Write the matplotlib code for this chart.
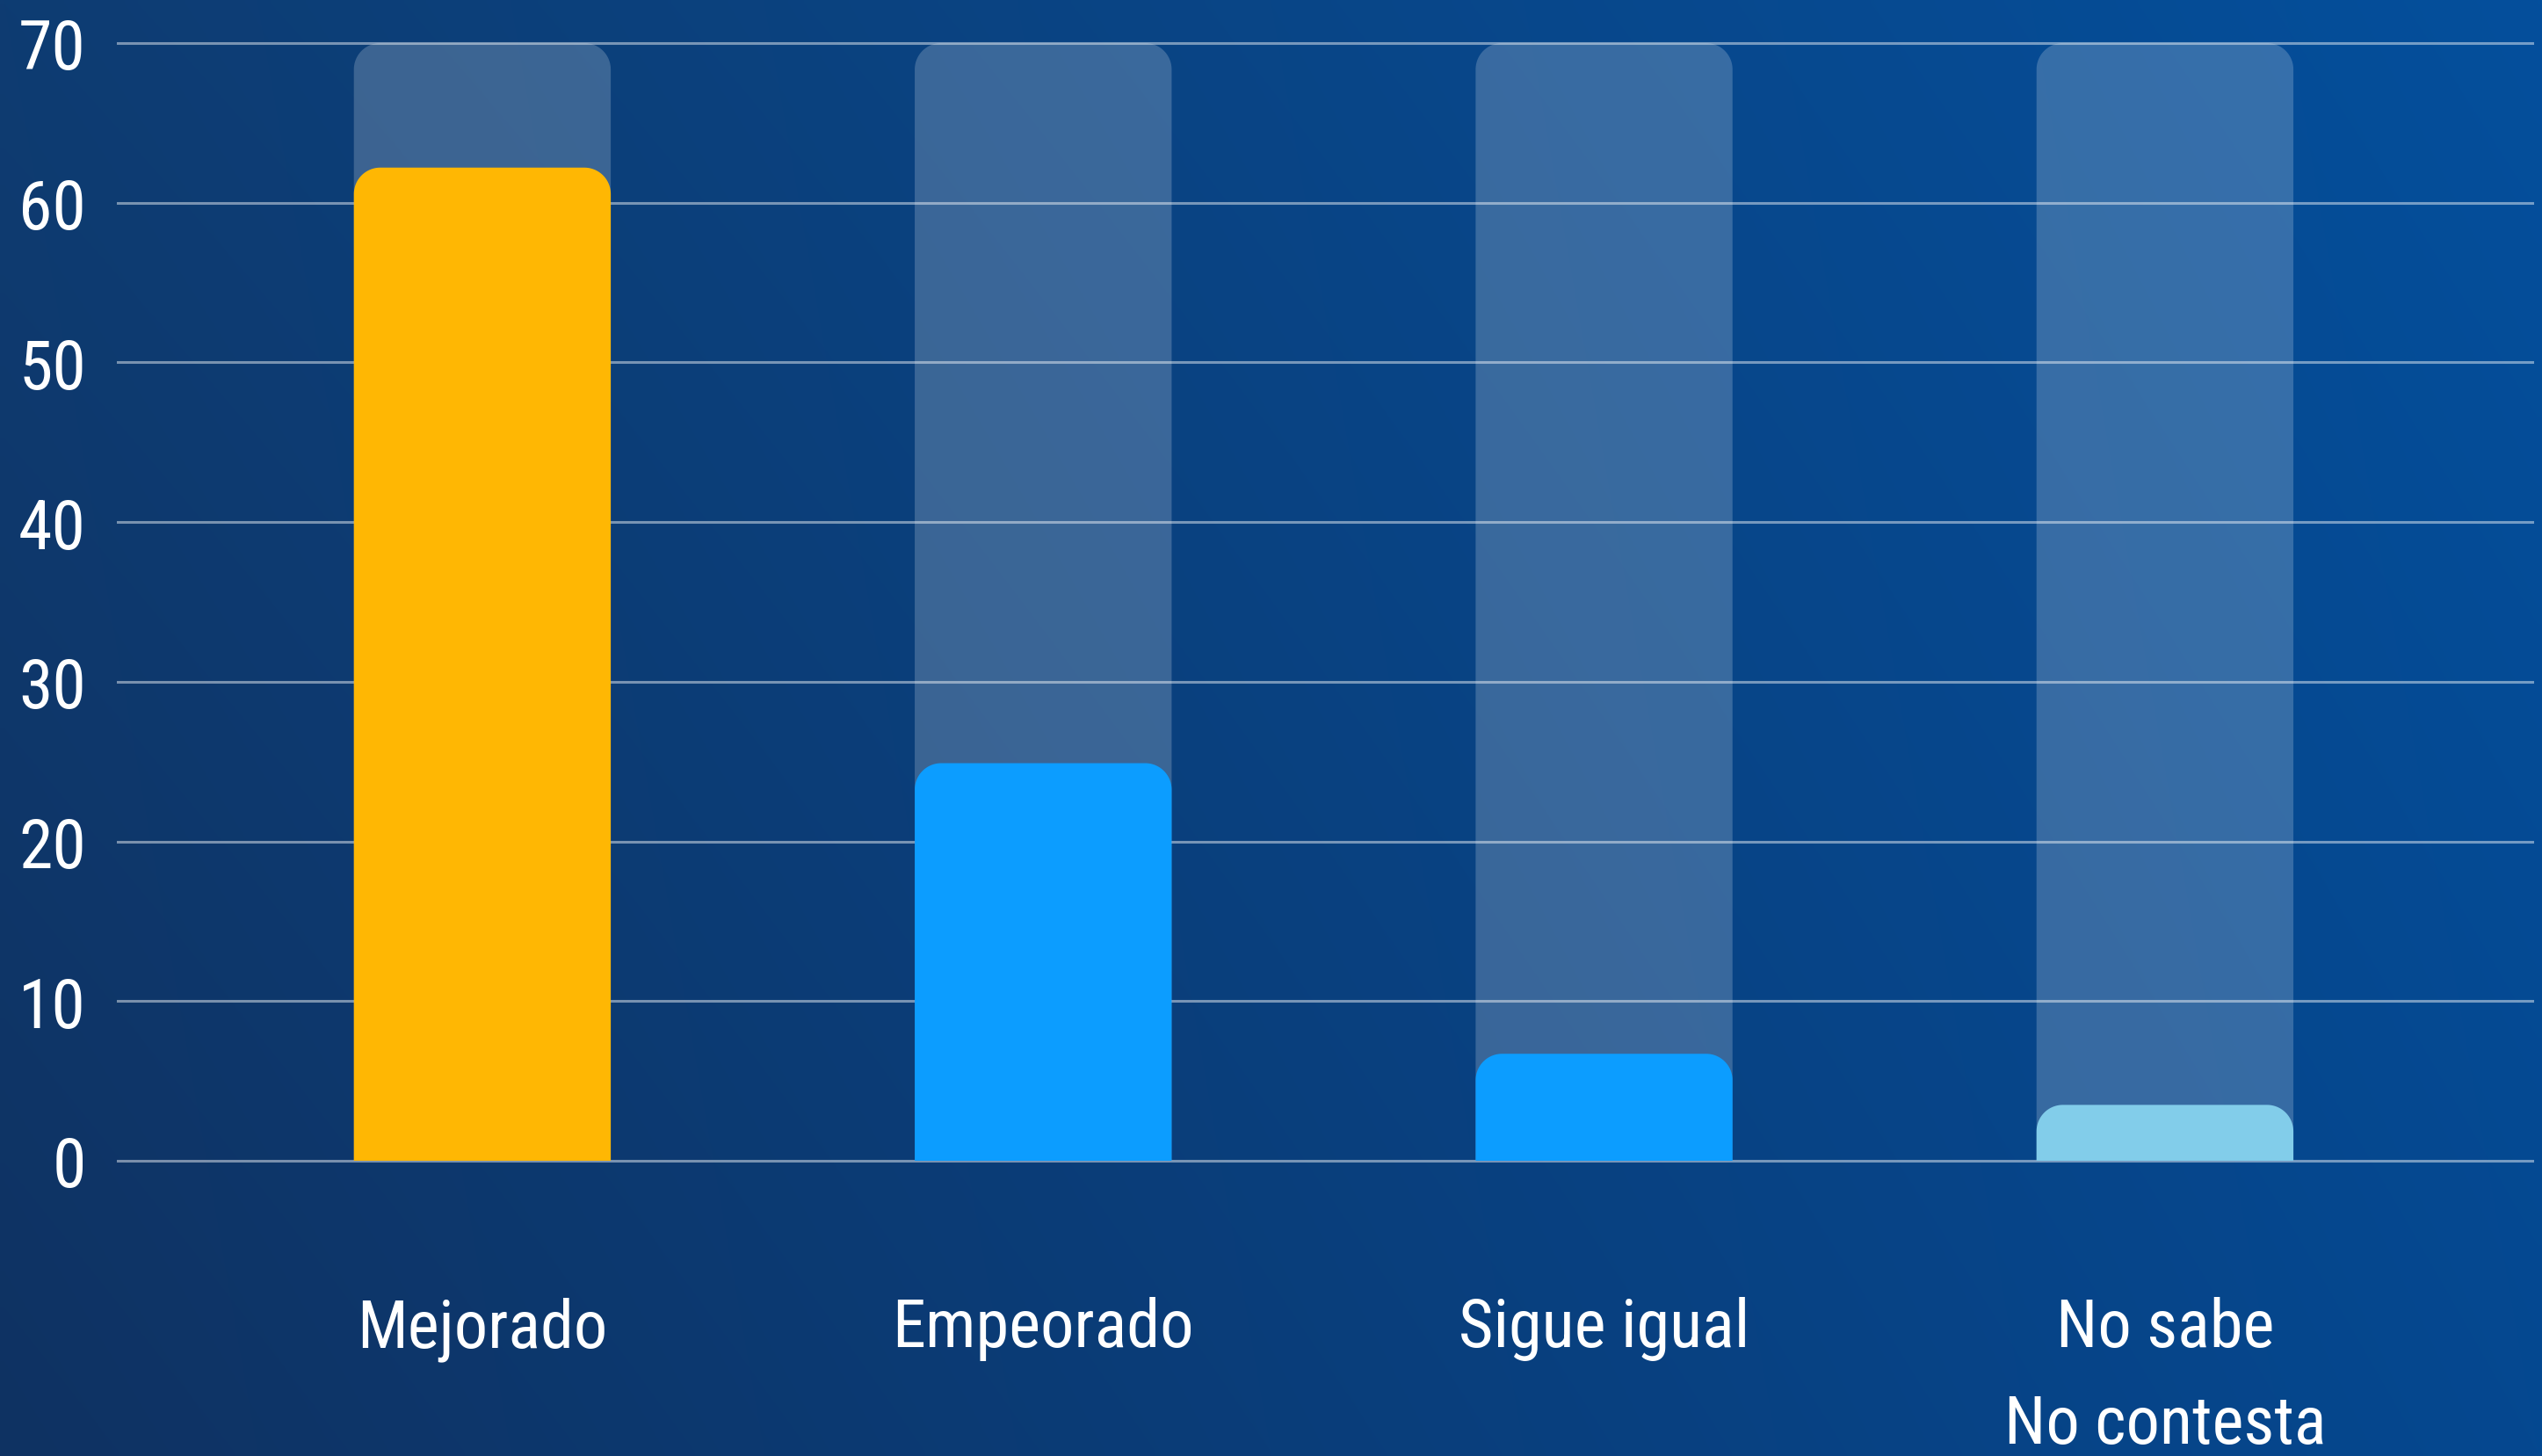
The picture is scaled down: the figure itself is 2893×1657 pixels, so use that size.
import numpy as np
import matplotlib
matplotlib.use('Agg')
import matplotlib.pyplot as plt
from matplotlib.patches import Polygon
from matplotlib.colors import to_rgb

plt.rcParams['font.family'] = ['Roboto Condensed', 'Roboto', 'DejaVu Sans']

# datos
categorias = ['Mejorado', 'Empeorado', 'Sigue igual', 'No sabe\nNo contesta']
valores = [62.2, 24.9, 6.7, 3.5]
colores = ['#ffb703', '#0c9dff', '#0c9dff', '#82cdea']
maximo = 70
yticks = [0, 10, 20, 30, 40, 50, 60, 70]

W, H = 2893, 1658
fig = plt.figure(figsize=(W / 100, H / 100), dpi=100)

# fondo con degradado (esquinas)
bg = fig.add_axes([0, 0, 1, 1])
bg.axis('off')
c_tl, c_tr = np.array(to_rgb('#0e3c72')), np.array(to_rgb('#044f9c'))
c_bl, c_br = np.array(to_rgb('#0f3262')), np.array(to_rgb('#054890'))
u = np.linspace(0, 1, 300)[None, :, None]
v = np.linspace(0, 1, 180)[:, None, None]
img = (1 - v) * ((1 - u) * c_tl + u * c_tr) + v * ((1 - u) * c_bl + u * c_br)
bg.imshow(img, aspect='auto', extent=[0, 1, 0, 1], interpolation='bilinear')
bg.set_xlim(0, 1)
bg.set_ylim(0, 1)

left, right = 134 / W, 2882 / W
bottom, top = 1 - 1322 / H, 1 - 50 / H
ax = fig.add_axes([left, bottom, right - left, top - bottom])
ax.patch.set_alpha(0)
ax.set_xlim(-0.65, 3.655)
ax.set_ylim(0, maximo)

ancho = 0.458
# radio de esquina en px -> unidades de datos
px_x = (right - left) * W / (3.655 + 0.65)
px_y = (top - bottom) * H / maximo
rx = 30 / px_x
ry = 30 / px_y


def barra_redonda(xc, alto, **kw):
    # barra con esquinas superiores redondeadas (arco circular en pixeles)
    x0, x1 = xc - ancho / 2, xc + ancho / 2
    t = np.linspace(0, np.pi / 2, 30)
    der = np.c_[x1 - rx + rx * np.cos(t), alto - ry + ry * np.sin(t)]
    izq = np.c_[x0 + rx - rx * np.sin(t), alto - ry + ry * np.cos(t)]
    pts = np.vstack([[x0, 0], [x1, 0], der, izq])
    ax.add_patch(Polygon(pts, closed=True, ec='none', **kw))


x = np.arange(len(categorias))
for xi, val, col in zip(x, valores, colores):
    barra_redonda(xi, maximo, fc='white', alpha=0.2, zorder=2)  # fondo
    barra_redonda(xi, val, fc=col, zorder=3)

ax.set_yticks(yticks)
ax.set_yticklabels([str(t) for t in yticks])
ax.grid(axis='y', color='white', alpha=0.45, linewidth=2.2, zorder=1)
ax.set_axisbelow(True)
for l in ax.get_ygridlines():
    l.set_clip_on(False)
ax.tick_params(axis='y', length=0, pad=26, labelsize=56, labelcolor='white')
ax.set_xticks([])
for s in ax.spines.values():
    s.set_visible(False)

for xi, cat in zip(x, categorias):
    for j, linea in enumerate(cat.split('\n')):
        ax.annotate(linea, xy=(xi, 0), xycoords=('data', 'axes fraction'),
                    xytext=(0, -152 - 79 * j), textcoords='offset points',
                    ha='center', va='baseline', fontsize=55, color='white')

fig.savefig('out.png', dpi=100)
